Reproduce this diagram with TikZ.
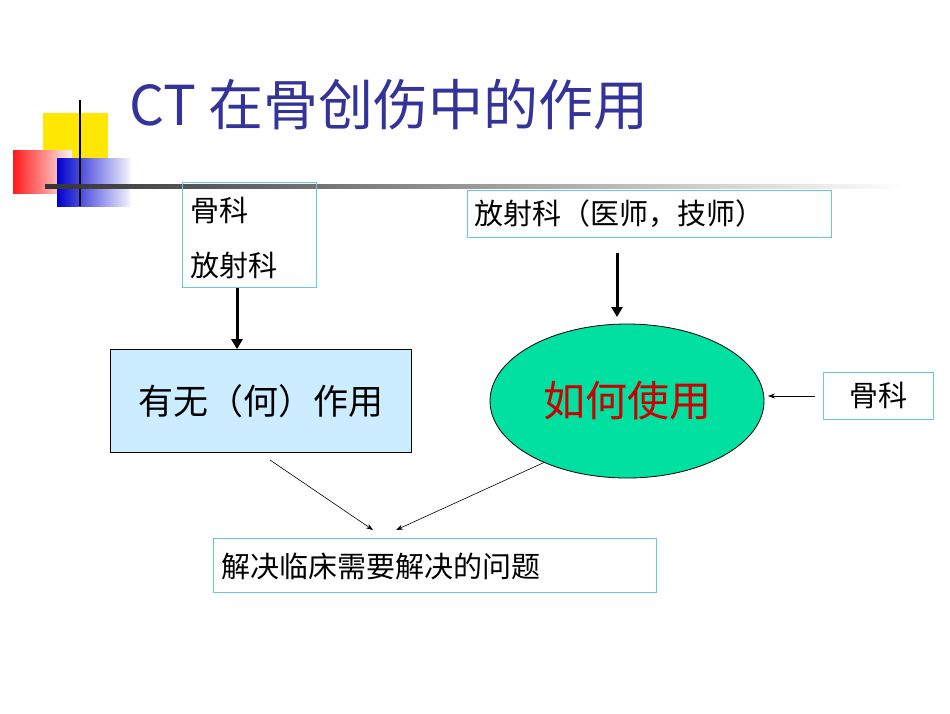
\documentclass[tikz,border=0pt]{standalone}
\usepackage{fontspec}
\setmainfont{Noto Sans CJK SC}
\usetikzlibrary{shapes.geometric,arrows.meta}
\definecolor{ttl}{HTML}{333399}
\definecolor{bx}{HTML}{66CCCC}
\definecolor{lb}{HTML}{CCECFF}
\definecolor{gr}{HTML}{00E0A0}
\tikzset{tb/.style={draw=bx,line width=0.8pt,inner sep=0pt},
 txt/.style={font=\fontsize{29}{32}\selectfont},
 thick arr/.style={line width=3pt,-{Triangle[length=10pt,width=11pt]}},
 thin arr/.style={line width=0.6pt,-{Stealth[length=7pt,width=5pt]}}}
\begin{document}
\begin{tikzpicture}[x=1pt,y=-1pt]
\useasboundingbox (0,0) rectangle (950,713);
% decoration
\fill[yellow!90!orange] (43,113) rectangle (108,160);
\shade[left color=red!90, right color=red!5] (13,150) rectangle (72,193);
\shade[left color=blue!80!black, right color=blue!5] (57,158) rectangle (130,206);
\draw[line width=2pt] (80,100) -- (80,206);
\shade[left color=black!80, right color=white] (45,184) rectangle (905,188);
\node[anchor=west,text=ttl,font=\fontsize{55}{60}\selectfont] (title) at (126,105) {CT 在骨创伤中的作用};
% boxes
\node[tb,minimum width=134,minimum height=105,anchor=north west] (b1) at (182,182) {};
\node[txt,anchor=west] (b1a) at (187,210) {骨科};
\node[txt,anchor=west] (b1b) at (187,265) {放射科};
\node[tb,txt,minimum width=364,minimum height=47,anchor=north west] (b2) at (467,190) {};
\node[txt,anchor=west] (b2t) at (471,214) {放射科（医师，技师）};
\node[draw=black,fill=lb,line width=0.6pt,minimum width=301,minimum height=103,font=\fontsize{35}{40}\selectfont] (b3) at (260.5,401) {有无（何）作用};
\node[ellipse,draw=black,fill=gr,line width=0.8pt,minimum width=274,minimum height=154,text=red!80!black,font=\fontsize{42}{48}\selectfont] (e) at (627,401) {如何使用};
\node[tb,txt,minimum width=110,minimum height=47] (b4) at (878,395.5) {骨科};
\node[tb,minimum width=443,minimum height=54,anchor=north west] (b5) at (213,538) {};
\node[txt,anchor=west] (b5t) at (218,566) {解决临床需要解决的问题};
% arrows
\coordinate (a1s) at (237,288);
\coordinate (a2s) at (617,253);
\draw[thick arr] (a1s) -- (b3.north -| a1s);
\draw[thick arr] (a2s) -- (617,317);
\coordinate (c4) at (815,396);
\coordinate (c5) at (768,396);
\draw[thin arr] (c4) -- (c5);
\coordinate (t1) at (270,460); \coordinate (h1) at (373,530);
\coordinate (t2) at (545,462); \coordinate (h2) at (396,530);
\draw[thin arr] (t1) -- (h1);
\draw[thin arr] (t2) -- (h2);
\end{tikzpicture}
\end{document}
